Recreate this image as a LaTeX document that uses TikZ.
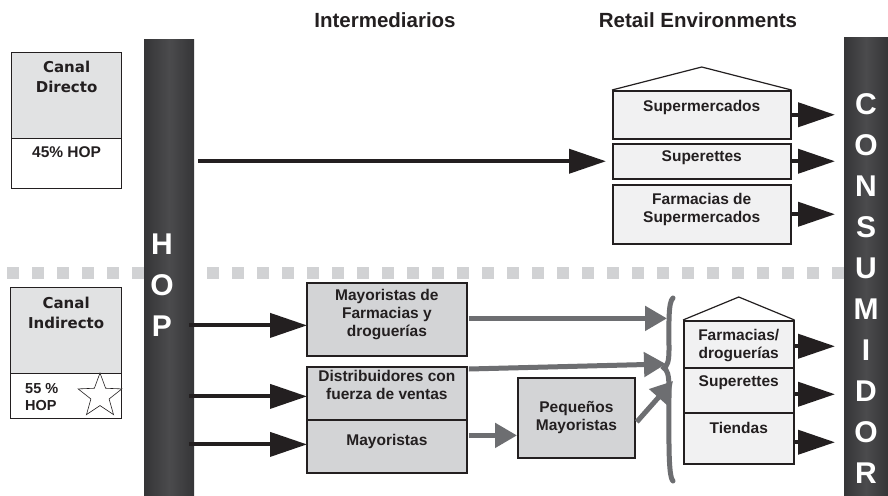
\documentclass[tikz,border=0pt]{standalone}
\usepackage{fontspec}
\setmainfont{Liberation Sans}
\newfontfamily\dvsans{DejaVu Sans}
\usetikzlibrary{arrows.meta,shapes.geometric,calc}
\definecolor{ink}{HTML}{231F20}
\definecolor{barc}{HTML}{353537}
\definecolor{barl}{HTML}{4B4B4D}
\definecolor{dashc}{HTML}{D1D2D4}
\definecolor{grayarr}{HTML}{6D6E71}
\definecolor{boxfill}{HTML}{D3D4D6}
\definecolor{retfill}{HTML}{F1F1F2}
\definecolor{canfill}{HTML}{E1E2E3}
\tikzset{
  vbar/.style={left color=barc, right color=barc, middle color=barl, draw=none, inner sep=0, anchor=north west},
  vletter/.style={text=white, font=\fontsize{30}{30}\selectfont\bfseries, inner sep=0},
  titletext/.style={text=ink, font=\fontsize{20.5}{22}\selectfont\bfseries, inner sep=0},
  lbl/.style={text=ink, font=\fontsize{15.5}{18}\selectfont\bfseries, inner sep=0, align=center},
  canlbl/.style={text=ink, font=\dvsans\fontsize{15}{20}\selectfont\bfseries, inner sep=0, align=center},
  canbox/.style={draw=ink, line width=1.2pt, fill=canfill, anchor=north west, inner sep=0},
  whitebox/.style={draw=ink, line width=1.2pt, fill=white, anchor=north west, inner sep=0},
  ibox/.style={draw=ink, line width=1.8pt, fill=boxfill, anchor=north west, inner sep=0},
  rbox/.style={draw=ink, line width=1.5pt, fill=retfill, anchor=north west, inner sep=0},
  roof/.style={draw=ink, line width=1.2pt, line join=miter},
  barrow/.style={draw=ink, line width=4pt, -{Triangle[length=37pt,width=24pt]}},
  garrow/.style={draw=grayarr, line width=5pt, -{Triangle[length=22pt,width=24pt]}},
  bracestyle/.style={draw=grayarr, line width=5pt, line cap=round},
}
\begin{document}
\begin{tikzpicture}[x=1pt,y=-1pt]
\useasboundingbox (0,0) rectangle (888,495);
\fill[white] (0,0) rectangle (888,495);

% dashed separator
\draw[dashc, line width=12pt, dash pattern=on 12pt off 13pt] (7,273) -- (845,273);

% vertical bars
\node[vbar, minimum width=50, minimum height=456] (hop) at (144,39) {};
\node[vbar, minimum width=44, minimum height=458] (cons) at (844,37) {};
\node[vletter] (h1) at (162,244) {H};
\node[vletter] (h2) at (162,285) {O};
\node[vletter] (h3) at (162,326) {P};
\foreach \ch [count=\i from 0] in {C,O,N,S,U,M,I,D,O,R}{
  \node[vletter] (c\i) at (866,{104+41*\i}) {\ch};
}

% titles
\node[titletext] (t1) at (385,20) {Intermediarios};
\node[titletext] (t2) at (698,20) {Retail Environments};

% canal directo
\node[canbox, minimum width=110, minimum height=86] (cdt) at (11,52) {};
\node[whitebox, minimum width=110, minimum height=50] (cdb) at (11,138) {};
\node[canlbl] (cdl) at ($(cdt.north)+(0,25)$) {Canal\\Directo};
\node[lbl] (cdp) at ($(cdb.north)+(0,14)$) {45\% HOP};

% canal indirecto
\node[canbox, minimum width=111, minimum height=86] (cit) at (10,287) {};
\node[whitebox, minimum width=111, minimum height=45] (cib) at (10,373) {};
\node[canlbl] (cil) at ($(cit.north)+(0,26)$) {Canal\\Indirecto};
\node[lbl, align=left, anchor=west, font=\fontsize{14.5}{17}\selectfont\bfseries] (cip) at (25,397) {55 \%\\HOP};
\node[star, star points=5, star point ratio=2.4, draw=ink, line width=0.6pt, fill=white, minimum size=46, inner sep=0] (st) at (100,396) {};

% top retail house
\node[rbox, minimum width=178, minimum height=48] (sm) at (612,90) {};
\node[rbox, minimum width=178, minimum height=35] (su) at (612,143) {};
\node[rbox, minimum width=178, minimum height=59] (fs) at (612,184) {};
\draw[roof] (sm.north west) -- ($(sm.north)+(0,-23)$) -- (sm.north east);
\node[lbl] (sml) at ($(sm.north)+(0,17)$) {Supermercados};
\node[lbl] (sul) at ($(su.north)+(0,15)$) {Superettes};
\node[lbl] (fsl) at ($(fs.north)+(0,25)$) {Farmacias de\\Supermercados};

% bottom retail house
\node[rbox, minimum width=110, minimum height=47] (fd) at (683,320) {};
\node[rbox, minimum width=110, minimum height=45] (s2) at (683,367) {};
\node[rbox, minimum width=110, minimum height=51] (ti) at (683,412) {};
\draw[roof] (fd.north west) -- ($(fd.north)+(0,-23)$) -- (fd.north east);
\node[lbl] (fdl) at ($(fd.north)+(0,26)$) {Farmacias/\\droguerías};
\node[lbl] (s2l) at ($(s2.north)+(0,16)$) {Superettes};
\node[lbl] (til) at ($(ti.north)+(0,16)$) {Tiendas};

% intermediaries
\node[ibox, minimum width=160, minimum height=73] (mf) at (306,282) {};
\node[ibox, minimum width=160, minimum height=53] (db) at (306,366) {};
\node[ibox, minimum width=160, minimum height=53] (ma) at (306,419) {};
\node[ibox, minimum width=117, minimum height=80] (pm) at (517,377) {};
\node[lbl] (mfl) at ($(mf.north)+(0,33)$) {Mayoristas de\\Farmacias y\\droguerías};
\node[lbl] (dbl) at ($(db.north)+(0,19)$) {Distribuidores con\\fuerza de ventas};
\node[lbl] (mal) at ($(ma.north)+(0,22)$) {Mayoristas};
\node[lbl] (pml) at ($(pm.north)+(0,41)$) {Pequeños\\Mayoristas};

% brace
\coordinate (bt) at (673,298);
\coordinate (bc) at (664,368);
\coordinate (bb) at (673,481);
\draw[bracestyle] (bt) .. controls (668,302) and (669,325) .. (669,350)
  .. controls (669,362) and (667,366) .. (bc)
  .. controls (667,370) and (669,374) .. (669,388)
  .. controls (669,440) and (668,476) .. (bb);

% black arrows from HOP
\draw[barrow] ($(hop.east |- su.west)+(4,0)$) -- ($(su.west)+(-6,0)$);
\draw[barrow] ($(hop.east |- mf.west)+(-5,6)$) -- ($(mf.west)+(1,6)$);
\draw[barrow] ($(hop.east |- db.west)+(-5,3)$) -- ($(db.west)+(1,3)$);
\draw[barrow] ($(hop.east |- ma.west)+(-5,-2)$) -- ($(ma.west)+(1,-2)$);

% black arrows to consumer
\foreach \b/\dy in {sm/0,su/0,fs/0,fd/2,s2/4,ti/4}{
  \draw[barrow] ($(\b.east)+(0,\dy)$) -- ($(\b.east -| cons.west)+(-9,\dy)$);
}

% gray arrows
\draw[garrow] ($(mf.east)+(1,-1)$) -- ($(mf.east -| bc)+(3,-1)$);
\draw[garrow] ($(db.north east)+(1,3)$) -- ($(bc)+(2,-4)$);
\draw[garrow] ($(ma.east)+(1,-11)$) -- ($(ma.east -| pm.west)+(0,-11)$);
\draw[garrow] ($(pm.east)+(1,4)$) -- ($(bc)+(9,13)$);
\end{tikzpicture}
\end{document}
